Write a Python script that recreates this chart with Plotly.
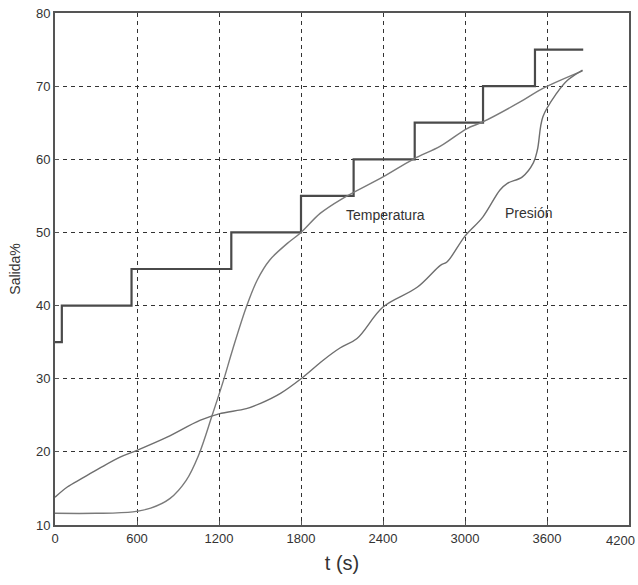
import plotly.graph_objects as go

# Setpoint (step) series
sp_t = [0, 50, 560, 1290, 1800, 2185, 2632, 3132, 3512, 3865]
sp_v = [35, 40, 45, 50, 55, 60, 65, 70, 75, 75]

# Temperatura
temp_t = [0, 300, 570, 700, 840, 960, 1050, 1150, 1230, 1300, 1400, 1480, 1570, 1700, 1800,
          1940, 2100, 2400, 2620, 2820, 3015, 3130, 3400, 3570, 3860]
temp_v = [11.6, 11.6, 11.8, 12.3, 13.6, 16.1, 19.5, 25.0, 29.6, 34.0, 39.8, 43.5, 46.2, 48.5, 50.0,
          52.6, 54.6, 57.6, 60.0, 61.8, 64.2, 65.1, 67.8, 69.7, 72.1]

# Presión
pres_t = [0, 90, 200, 330, 480, 600, 820, 1060, 1200, 1400, 1500, 1650, 1800, 1960, 2085, 2210,
          2400, 2650, 2820, 2870, 3000, 3130, 3256, 3310, 3420, 3500, 3530, 3570, 3670, 3750, 3860]
pres_v = [13.8, 15.2, 16.4, 17.8, 19.3, 20.2, 22.0, 24.3, 25.2, 25.9, 26.6, 28.0, 30.0, 32.5, 34.2, 35.5,
          39.8, 42.5, 45.5, 46.0, 49.5, 52.1, 55.8, 56.7, 57.6, 59.5, 61.3, 65.8, 69.0, 70.8, 72.2]

x_ticks = [0, 600, 1200, 1800, 2400, 3000, 3600, 4200]
x_labels = ["0", "600", "1200", "1800", "2400", "3000", "3600", ""]  # last label drawn separately
y_ticks = [10, 20, 30, 40, 50, 60, 70, 80]

FONT = "Liberation Sans, Arial, sans-serif"

fig = go.Figure()
fig.add_trace(go.Scatter(x=sp_t, y=sp_v, mode="lines", line_shape="hv",
                         line=dict(color="#4a4a4a", width=2.2), showlegend=False))
fig.add_trace(go.Scatter(x=temp_t, y=temp_v, mode="lines", line_shape="spline",
                         line=dict(color="#7a7a7a", width=1.4), showlegend=False))
fig.add_trace(go.Scatter(x=pres_t, y=pres_v, mode="lines", line_shape="spline",
                         line=dict(color="#6e6e6e", width=1.4), showlegend=False))

fig.add_annotation(x=2415, y=52.4, text="Temperatura", showarrow=False,
                   font=dict(family=FONT, size=14, color="#333"))
fig.add_annotation(x=3461, y=52.6, text="Presión", showarrow=False,
                   font=dict(family=FONT, size=14, color="#333"))
# last x tick label, kept inside the page edge
fig.add_annotation(x=x_ticks[-1], y=0, xref="x", yref="paper", text="4200", showarrow=False,
                   xanchor="right", yanchor="top", xshift=8, yshift=-6,
                   font=dict(family=FONT, size=13, color="#333"))

axis_common = dict(showline=True, linecolor="#555", linewidth=2, mirror=True,
                   ticks="inside", ticklen=4, tickcolor="#555", automargin=False,
                   ticklabeloverflow="allow",
                   showgrid=True, gridcolor="#333", gridwidth=1.4, griddash="4px,4px",
                   zeroline=False, tickfont=dict(family=FONT, size=13, color="#333"))

fig.update_xaxes(range=[0, 4200], tickvals=x_ticks, ticktext=x_labels, **axis_common,
                 title=dict(text="t (s)", font=dict(family=FONT, size=20, color="#333"), standoff=11))
fig.update_yaxes(range=[10, 80], tickvals=y_ticks, **axis_common,
                 title=dict(text="Salida%", font=dict(family=FONT, size=14, color="#333"), standoff=12))

fig.update_layout(width=638, height=585, margin=dict(l=55, r=9, t=13, b=60),
                  plot_bgcolor="white", paper_bgcolor="white")

# remove the default page margin so the figure fills the window exactly
fig.write_html("out.html", config={"displayModeBar": False},
               post_script="document.body.style.margin='0';document.body.style.overflow='hidden';")
